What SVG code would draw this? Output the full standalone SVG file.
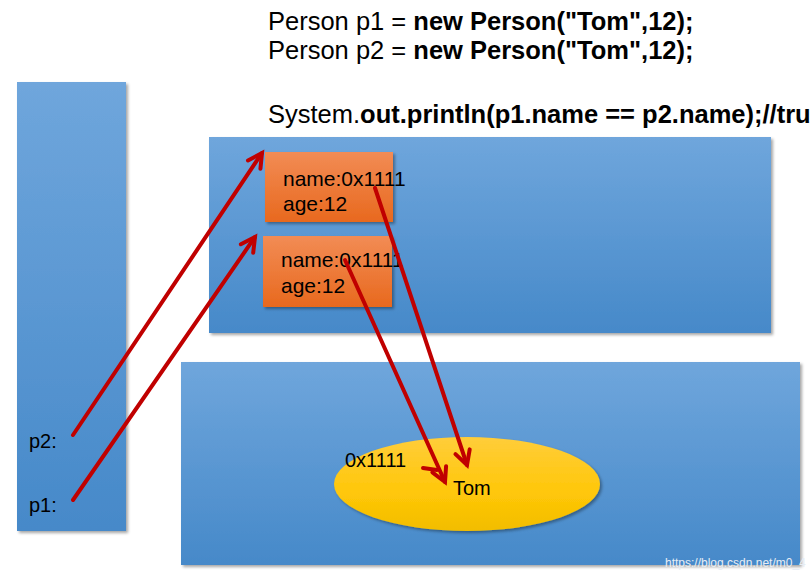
<svg xmlns="http://www.w3.org/2000/svg" width="811" height="574" viewBox="0 0 811 574">
  <defs>
    <linearGradient id="blue" x1="0" y1="0" x2="0" y2="1">
      <stop offset="0" stop-color="#6fa6dc"/>
      <stop offset="1" stop-color="#4689c9"/>
    </linearGradient>
    <linearGradient id="orange" x1="0" y1="0" x2="0" y2="1">
      <stop offset="0" stop-color="#f28c55"/>
      <stop offset="1" stop-color="#e8691e"/>
    </linearGradient>
    <linearGradient id="yellow" x1="0" y1="0" x2="0" y2="1">
      <stop offset="0" stop-color="#ffcd3a"/>
      <stop offset="0.6" stop-color="#ffc708"/>
      <stop offset="1" stop-color="#f2bd00"/>
    </linearGradient>
    <filter id="shadow" x="-5%" y="-5%" width="115%" height="115%">
      <feDropShadow dx="2" dy="2" stdDeviation="1.5" flood-color="#000" flood-opacity="0.35"/>
    </filter>
    <marker id="arrow" markerUnits="userSpaceOnUse" markerWidth="20" markerHeight="20" viewBox="0 0 20 20" refX="16" refY="10" orient="auto" overflow="visible">
      <path d="M2,2.5 L16,10 L2,17.5" fill="none" stroke="#c00000" stroke-width="4" stroke-linecap="round" stroke-linejoin="miter"/>
    </marker>
  </defs>
  <style>
    .blue { fill: url(#blue); filter: url(#shadow); }
    .obj { fill: url(#orange); filter: url(#shadow); }
    .code { font-family: "Liberation Sans", Arial, sans-serif; font-size: 25.5px; fill: #000; }
    .b { font-weight: bold; }
    .lbl { font-family: "Liberation Sans", Arial, sans-serif; fill: #000; }
    .conn { stroke: #c00000; stroke-width: 4; fill: none; stroke-linecap: round; }
  </style>
  <rect width="811" height="574" fill="#ffffff"/>

  <g id="code">
    <text class="code" x="268" y="30">Person p1 = <tspan class="b">new Person("Tom",12);</tspan></text>
    <text class="code" x="268" y="59">Person p2 = <tspan class="b">new Person("Tom",12);</tspan></text>
    <text class="code" x="268" y="123">System.<tspan class="b">out.println(p1.name == p2.name);//tru</tspan></text>
  </g>

  <g id="stack">
    <rect class="blue" x="17" y="82" width="109" height="449"/>
    <text class="lbl" x="29" y="448" font-size="20">p2:</text>
    <text class="lbl" x="29" y="512" font-size="20">p1:</text>
  </g>

  <g id="heap">
    <rect class="blue" x="209" y="137" width="562" height="196"/>
  </g>

  <g id="pool">
    <rect class="blue" x="181" y="362" width="619" height="203"/>
    <text x="665" y="567" font-family="'Liberation Sans', Arial, sans-serif" font-size="12" fill="#e6edf5">https://blog.csdn.net/m0_4</text>
  </g>

  <g id="obj1">
    <rect class="obj" x="265" y="152" width="128" height="70"/>
    <text class="lbl" x="283" y="186" font-size="21">name:0x1111</text>
    <text class="lbl" x="283" y="211" font-size="21">age:12</text>
  </g>

  <g id="obj2">
    <rect class="obj" x="263" y="236" width="129" height="71"/>
    <text class="lbl" x="281" y="267" font-size="21">name:0x1111</text>
    <text class="lbl" x="281" y="293" font-size="21">age:12</text>
  </g>

  <g id="tom">
    <ellipse cx="467" cy="484" rx="133" ry="47" fill="url(#yellow)" filter="url(#shadow)"/>
    <text class="lbl" x="453" y="495" font-size="20">Tom</text>
    <text class="lbl" x="345" y="467" font-size="20">0x1111</text>
  </g>

  <g id="connectors">
    <line class="conn" x1="73" y1="435" x2="262" y2="153" marker-end="url(#arrow)"/>
    <line class="conn" x1="73" y1="500" x2="255" y2="237" marker-end="url(#arrow)"/>
    <line class="conn" x1="375" y1="188" x2="467" y2="465" marker-end="url(#arrow)"/>
    <line class="conn" x1="345" y1="260" x2="445" y2="482" marker-end="url(#arrow)"/>
    <line class="conn" x1="423" y1="468" x2="437" y2="470"/>
  </g>
</svg>
